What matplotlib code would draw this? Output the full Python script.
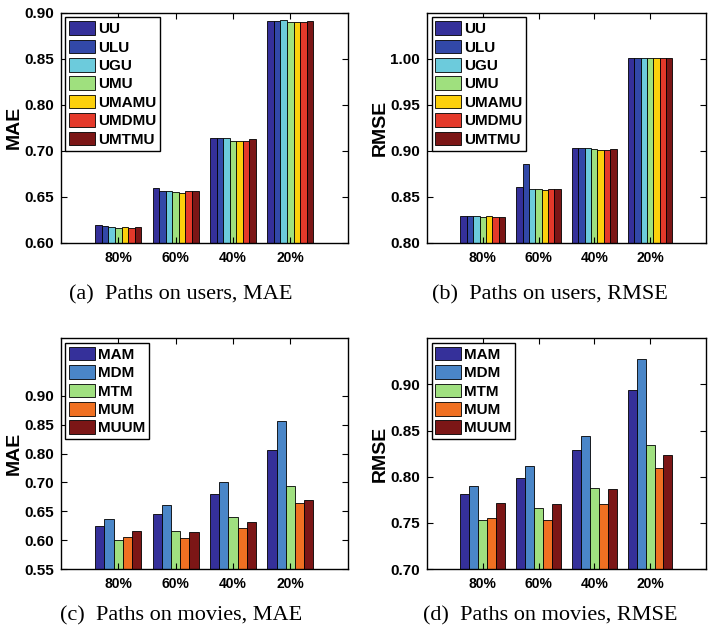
import numpy as np
import matplotlib
matplotlib.use("Agg")
import matplotlib.pyplot as plt

plt.rcParams['font.family'] = ['Liberation Sans', 'DejaVu Sans']
plt.rcParams['font.weight'] = 'bold'

groups = ['80%', '60%', '40%', '20%']

# paths on users
user_paths = ['UU', 'ULU', 'UGU', 'UMU', 'UMAMU', 'UMDMU', 'UMTMU']
user_colors = ['#35309a', '#3248a8', '#6ccbdc', '#9fe07e', '#fcd00c', '#e4392a', '#7c1616']
user_mae = [
    [0.619, 0.6594, 0.7268, 0.8913],
    [0.6178, 0.6565, 0.7275, 0.8913],
    [0.6174, 0.6565, 0.7275, 0.8917],
    [0.6156, 0.655, 0.7217, 0.8899],
    [0.6167, 0.6543, 0.7203, 0.8902],
    [0.616, 0.6558, 0.721, 0.8902],
    [0.6167, 0.6558, 0.7254, 0.891],
]
user_rmse = [
    [0.8295, 0.8604, 0.9025, 1.0011],
    [0.8288, 0.8856, 0.9025, 1.0011],
    [0.8288, 0.859, 0.9029, 1.0011],
    [0.8284, 0.8586, 0.9014, 1.0004],
    [0.8288, 0.8579, 0.9007, 1.0011],
    [0.828, 0.859, 0.9011, 1.0004],
    [0.8284, 0.8586, 0.9018, 1.0004],
]

# paths on movies
movie_paths = ['MAM', 'MDM', 'MTM', 'MUM', 'MUUM']
movie_colors = ['#35309a', '#4a86c8', '#a0e080', '#f07022', '#7c1616']
movie_mae = [
    [0.6247, 0.6454, 0.6799, 0.807],
    [0.6362, 0.6609, 0.7023, 0.857],
    [0.6006, 0.6155, 0.6397, 0.6943],
    [0.6057, 0.604, 0.6218, 0.665],
    [0.6167, 0.6144, 0.6316, 0.6701],
]
movie_rmse = [
    [0.7817, 0.7989, 0.8288, 0.8942],
    [0.7903, 0.8112, 0.8446, 0.927],
    [0.7532, 0.7658, 0.7874, 0.8345],
    [0.755, 0.7536, 0.7701, 0.8097],
    [0.7716, 0.7701, 0.7867, 0.8234],
]

# tick labels as printed (the MAE axes skip 0.75 but keep even spacing)
mae_ticks_a = [0.60, 0.65, 0.70, 0.80, 0.85, 0.90]
rmse_ticks_b = [0.80, 0.85, 0.90, 0.95, 1.00]
mae_ticks_c = [0.55, 0.60, 0.65, 0.70, 0.80, 0.85, 0.90]
rmse_ticks_d = [0.70, 0.75, 0.80, 0.85, 0.90]


def label_scale(ax, labels, extra):
    vals = np.array(labels + extra)
    pos = np.arange(len(vals), dtype=float)
    fwd = lambda y: np.interp(y, vals, pos)
    inv = lambda p: np.interp(p, pos, vals)
    ax.set_yscale('function', functions=(fwd, inv))


def draw(ax, data, names, colors, ymin, ymax, ticks, ylabel):
    n = len(names)
    x = np.arange(1, len(groups) + 1)
    w = 0.8 / n
    for i in range(n):
        vals = np.array(data[i])
        ax.bar(x - 0.4 + w * (i + 0.5), vals - ymin, w, bottom=ymin,
               color=colors[i], edgecolor='black', linewidth=0.6, label=names[i])
    ax.set_xlim(0, 5)
    ax.set_ylim(ymin, ymax)
    ax.set_xticks(x)
    ax.set_xticklabels(groups)
    ax.set_yticks(ticks)
    ax.set_yticklabels(['%.2f' % t for t in ticks])
    ax.minorticks_off()
    ax.tick_params(direction='in', length=4, top=True, right=True,
                   labelsize=11, width=0.8, pad=5)
    ax.tick_params(axis='x', labelsize=10, pad=6)
    ax.set_ylabel(ylabel, fontsize=14, fontweight='bold', labelpad=1)
    for s in ax.spines.values():
        s.set_linewidth(1.0)
    leg = ax.legend(loc='upper left', fontsize=11, handlelength=1.7, handleheight=1.0,
                    handletextpad=0.2, labelspacing=0.22, borderpad=0.25,
                    borderaxespad=0.3, fancybox=False, framealpha=1)
    leg.get_frame().set_edgecolor('black')
    leg.get_frame().set_linewidth(1.0)


fig = plt.figure(figsize=(7.08, 6.34), dpi=100)
ax_a = fig.add_axes([0.086, 0.617, 0.405, 0.363])
ax_b = fig.add_axes([0.603, 0.617, 0.394, 0.363])
ax_c = fig.add_axes([0.086, 0.1025, 0.405, 0.364])
ax_d = fig.add_axes([0.603, 0.1025, 0.394, 0.364])

label_scale(ax_a, mae_ticks_a, [0.95])
draw(ax_a, user_mae, user_paths, user_colors, 0.60, 0.90, mae_ticks_a, 'MAE')
draw(ax_b, user_rmse, user_paths, user_colors, 0.80, 1.05, rmse_ticks_b, 'RMSE')
label_scale(ax_c, mae_ticks_c, [0.95, 1.00])
draw(ax_c, movie_mae, movie_paths, movie_colors, 0.55, 1.00, mae_ticks_c, 'MAE')
draw(ax_d, movie_rmse, movie_paths, movie_colors, 0.70, 0.95, rmse_ticks_d, 'RMSE')

serif = ['Liberation Serif', 'DejaVu Serif']
captions = [
    (0.256, 0.535, '(a)  Paths on users, MAE'),
    (0.777, 0.535, '(b)  Paths on users, RMSE'),
    (0.256, 0.028, '(c)  Paths on movies, MAE'),
    (0.777, 0.028, '(d)  Paths on movies, RMSE'),
]
for cx, cy, txt in captions:
    fig.text(cx, cy, txt, ha='center', va='center', fontsize=16,
             fontweight='normal', family=serif)

fig.savefig('out.png', dpi=100)
